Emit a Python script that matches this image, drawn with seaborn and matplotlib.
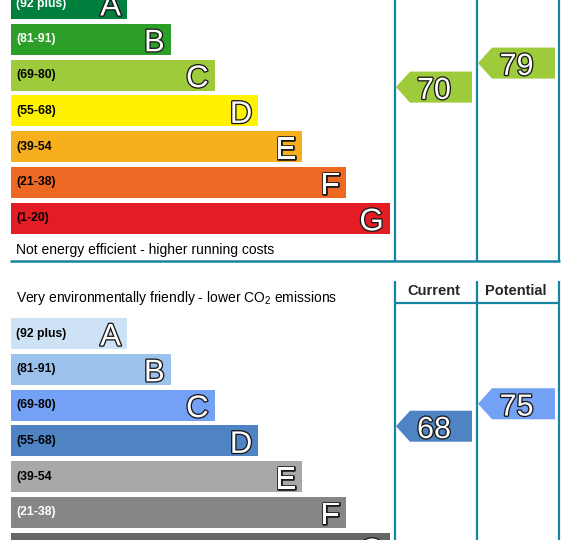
import numpy as np
import matplotlib
matplotlib.use("Agg")
import matplotlib.pyplot as plt
import matplotlib.patheffects as pe
from matplotlib.patches import Polygon
import seaborn as sns

# -----------------------------------------
# Data
# -----------------------------------------
bands = ["A", "B", "C", "D", "E", "F", "G"]
range_labels = ["(92 plus)", "(81-91)", "(69-80)", "(55-68)", "(39-54", "(21-38)", "(1-20)"]
band_low = [92, 81, 69, 55, 39, 21, 1]
band_high = [100, 91, 80, 68, 54, 38, 20]

energy_colors = ["#007f3d", "#2c9f29", "#9dcb3c", "#fff200", "#f7af1d", "#ed6823", "#e31d23"]
energy_label_colors = ["white", "white", "black", "black", "black", "black", "black"]
energy_current = 70
energy_potential = 79

co2_colors = ["#cde3f5", "#9bc2ed", "#73a1f5", "#4f84c4", "#a8a8a8", "#868686", "#666666"]
co2_label_colors = ["black", "black", "black", "black", "black", "white", "white"]
co2_current = 68
co2_potential = 75

# -----------------------------------------
# Layout (pixel based, figure is 571 x 540)
# -----------------------------------------
W, H = 571, 540
PITCH = 35.8          # px between band centres
BAR_H = 31 / PITCH    # bar thickness in band units
X0 = 11               # left edge of bars in px
LINE_C = "#1684a3"
FONT = ["Liberation Sans", "DejaVu Sans"]

sns.set_style("white")
plt.rcParams["font.family"] = FONT
plt.rcParams["mathtext.fontset"] = "custom"
plt.rcParams["mathtext.rm"] = "Liberation Sans"

fig = plt.figure(figsize=(W / 100, H / 100), dpi=100)

outline = [pe.withStroke(linewidth=1.9, foreground="#1a1a1a")]


def xpx(px):
    return px - X0


def ypx(px, a_center_px):
    return (px - a_center_px) / PITCH


def band_of(v):
    for i, (lo, hi) in enumerate(zip(band_low, band_high)):
        if lo <= v <= hi:
            return i
    return 0


def value_to_y(v, f=0.82):
    i = band_of(v)
    lo, hi = band_low[i], band_high[i]
    return i - f / 2 + (hi - v) / (hi - lo) * f


def draw_arrow(ax, value, colors, tip_px, end_px):
    y = value_to_y(value)
    h = BAR_H / 2
    tip, body, end = xpx(tip_px), xpx(tip_px + 14), xpx(end_px)
    ax.add_patch(Polygon([(tip, y), (body, y - h), (end, y - h), (end, y + h), (body, y + h)],
                         closed=True, facecolor=colors[band_of(value)], edgecolor="none", zorder=3))
    ax.text((tip + end) / 2, y + 0.33, str(value), ha="center", va="baseline",
            fontsize=22, color="white", path_effects=outline, zorder=4)


def draw_bands(ax, colors, label_colors, a_center_px, top_px, bottom_px):
    bar_len = [116 + 43.8 * i for i in range(len(bands))]
    sns.barplot(x=bar_len, y=bands, hue=bands, palette=colors, orient="h",
                width=BAR_H, saturation=1, legend=False, ax=ax, linewidth=0)
    for i, (b, lab, lc) in enumerate(zip(bands, range_labels, label_colors)):
        ax.text(5.5, i, lab, ha="left", va="center", fontsize=8.8,
                fontweight="bold", color=lc)
        ax.text(bar_len[i] - 6, i + 0.335, b, ha="right", va="baseline",
                fontsize=22.5, color="white", path_effects=outline)
    ax.set_xlim(-X0, W - X0)
    ax.set_ylim((bottom_px - a_center_px) / PITCH, (top_px - a_center_px) / PITCH)
    ax.axis("off")


cols = [395, 477, 559]

# -----------------------------------------
# Top chart: energy efficiency
# -----------------------------------------
ax1 = fig.add_axes([0, 0.5, 1, 0.5])
top_a = 3.5
draw_bands(ax1, energy_colors, energy_label_colors, top_a, 0, 270)
for c in cols:
    ax1.plot([xpx(c), xpx(c)], [ypx(-5, top_a), ypx(261, top_a)], color=LINE_C, lw=1.6,
             clip_on=False, solid_capstyle="butt")
ax1.plot([xpx(10), xpx(560)], [ypx(261, top_a)] * 2, color=LINE_C, lw=1.8,
         solid_capstyle="butt")
ax1.text(xpx(16), ypx(250, top_a), "Not energy efficient - higher running costs",
         ha="left", va="center", fontsize=10, color="black")
draw_arrow(ax1, energy_current, energy_colors, 396, 472)
draw_arrow(ax1, energy_potential, energy_colors, 478, 555)

# -----------------------------------------
# Bottom chart: environmental impact
# -----------------------------------------
ax2 = fig.add_axes([0, 0, 1, 0.5])
bot_a = 333.5
draw_bands(ax2, co2_colors, co2_label_colors, bot_a, 270, 540)
for c in cols:
    ax2.plot([xpx(c), xpx(c)], [ypx(281, bot_a), ypx(545, bot_a)], color=LINE_C, lw=1.6,
             clip_on=False, solid_capstyle="butt")
ax2.plot([xpx(395), xpx(560)], [ypx(302.5, bot_a)] * 2, color=LINE_C, lw=1.6,
         solid_capstyle="butt")
ax2.text(xpx(434), ypx(291, bot_a), "Current", ha="center", va="center",
         fontsize=10.5, fontweight="bold")
ax2.text(xpx(516), ypx(291, bot_a), "Potential", ha="center", va="center",
         fontsize=10.5, fontweight="bold")
ax2.text(xpx(16), ypx(298, bot_a), r"Very environmentally friendly - lower CO$_{\mathrm{2}}$ emissions",
         ha="left", va="center", fontsize=10, color="black")
draw_arrow(ax2, co2_current, co2_colors, 396, 472)
draw_arrow(ax2, co2_potential, co2_colors, 478, 555)

fig.savefig("out.png", dpi=100)
